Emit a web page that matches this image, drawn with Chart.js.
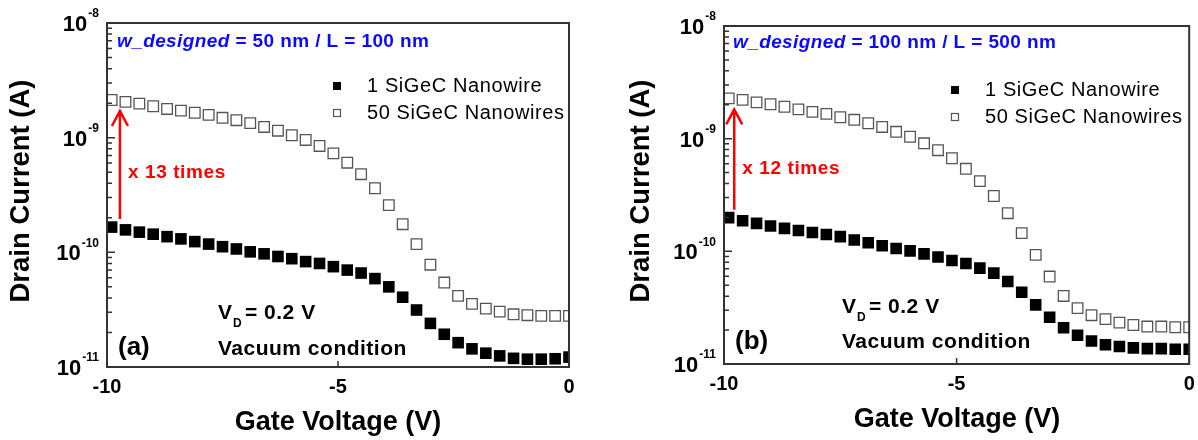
<!DOCTYPE html>
<html lang="en">
<head>
<meta charset="UTF-8">
<title>SiGeC nanowire drain current</title>
<script src="https://cdn.jsdelivr.net/npm/chart.js"></script>
<style>
  body { margin: 0; background: #fff; }
  .panel { position: absolute; top: 0; width: 599px; height: 440px; }
  #wrapA { left: 0; }
  #wrapB { left: 599px; }
</style>
</head>
<body>
<div class="panel" id="wrapA"><canvas id="chartA" width="599" height="440"></canvas></div>
<div class="panel" id="wrapB"><canvas id="chartB" width="599" height="440"></canvas></div>
<script>
// gate voltage sweep (V)
const gateV = [-9.9, -9.6, -9.3, -9.0, -8.7, -8.4, -8.1, -7.8, -7.5, -7.2, -6.9, -6.6,
  -6.3, -6.0, -5.7, -5.4, -5.1, -4.8, -4.5, -4.2, -3.9, -3.6, -3.3, -3.0, -2.7, -2.4,
  -2.1, -1.8, -1.5, -1.2, -0.9, -0.6, -0.3, 0];

// (a) w = 50 nm / L = 100 nm
const drainA1 = [1.66e-10, 1.57e-10, 1.50e-10, 1.44e-10, 1.37e-10, 1.31e-10, 1.24e-10, 1.18e-10,
  1.12e-10, 1.07e-10, 1.01e-10, 9.7e-11, 9.2e-11, 8.8e-11, 8.3e-11, 8.0e-11, 7.5e-11, 7.0e-11,
  6.6e-11, 5.9e-11, 5.0e-11, 4.06e-11, 3.14e-11, 2.40e-11, 1.93e-11, 1.63e-11, 1.44e-11,
  1.32e-11, 1.25e-11, 1.19e-11, 1.17e-11, 1.17e-11, 1.18e-11, 1.22e-11];
const drainA50 = [2.13e-9, 2.05e-9, 1.98e-9, 1.88e-9, 1.78e-9, 1.72e-9, 1.65e-9, 1.58e-9, 1.49e-9,
  1.42e-9, 1.34e-9, 1.24e-9, 1.15e-9, 1.05e-9, 9.55e-10, 8.47e-10, 7.3e-10, 6.05e-10, 4.80e-10,
  3.62e-10, 2.58e-10, 1.76e-10, 1.18e-10, 7.8e-11, 5.45e-11, 4.17e-11, 3.55e-11, 3.23e-11,
  3.04e-11, 2.88e-11, 2.83e-11, 2.79e-11, 2.79e-11, 2.79e-11];

// (b) w = 100 nm / L = 500 nm
const drainB1 = [1.99e-10, 1.87e-10, 1.77e-10, 1.68e-10, 1.60e-10, 1.53e-10, 1.47e-10, 1.41e-10,
  1.35e-10, 1.26e-10, 1.19e-10, 1.12e-10, 1.06e-10, 1.01e-10, 9.5e-11, 8.9e-11, 8.3e-11, 7.8e-11,
  7.1e-11, 6.4e-11, 5.4e-11, 4.34e-11, 3.35e-11, 2.60e-11, 2.10e-11, 1.80e-11, 1.60e-11,
  1.48e-11, 1.43e-11, 1.39e-11, 1.37e-11, 1.37e-11, 1.35e-11, 1.35e-11];
const drainB50 = [2.28e-9, 2.21e-9, 2.10e-9, 2.02e-9, 1.92e-9, 1.82e-9, 1.73e-9, 1.66e-9, 1.55e-9,
  1.47e-9, 1.37e-9, 1.27e-9, 1.15e-9, 1.04e-9, 9.1e-10, 7.9e-10, 6.7e-10, 5.4e-10, 4.2e-10,
  3.1e-10, 2.18e-10, 1.45e-10, 9.3e-11, 5.97e-11, 4.02e-11, 3.13e-11, 2.71e-11, 2.50e-11,
  2.33e-11, 2.22e-11, 2.15e-11, 2.15e-11, 2.12e-11, 2.12e-11];

const seriesNames = ['1 SiGeC Nanowire', '50 SiGeC Nanowires'];
const xTickValues = [-10, -5, 0];
const yDecades = [-11, -10, -9, -8];

const FONT = 'Arial, "Liberation Sans", sans-serif';

function pts(ys) {
  return gateV.map((v, i) => ({ x: v, y: ys[i] }));
}

function txt(ctx, s, x, y, font, color, align, spacing) {
  ctx.font = font;
  ctx.fillStyle = color || '#000';
  ctx.textAlign = align || 'left';
  ctx.textBaseline = 'middle';
  ctx.letterSpacing = spacing || '0px';
  ctx.fillText(s, x, y);
  const w = ctx.measureText(s).width;
  ctx.letterSpacing = '0px';
  return w;
}

const decor = {
  id: 'decor',
  afterDraw(chart, args, o) {
    const { ctx, chartArea: a, scales: { x, y } } = chart;
    ctx.save();

    // frame
    ctx.strokeStyle = '#333';
    ctx.lineWidth = 2;
    ctx.strokeRect(a.left, a.top, a.right - a.left, a.bottom - a.top);

    // y ticks (inward), major + log minors
    ctx.lineWidth = 1.5;
    ctx.beginPath();
    yDecades.forEach(d => {
      const py = y.getPixelForValue(Math.pow(10, d));
      ctx.moveTo(a.left, py); ctx.lineTo(a.left + 8, py);
      if (d < -8) {
        for (let m = 2; m <= 9; m++) {
          const pm = y.getPixelForValue(m * Math.pow(10, d));
          ctx.moveTo(a.left, pm); ctx.lineTo(a.left + 5, pm);
        }
      }
    });
    xTickValues.forEach(v => {
      const px = x.getPixelForValue(v);
      ctx.moveTo(px, a.bottom); ctx.lineTo(px, a.bottom - 6);
    });
    ctx.stroke();

    // y tick labels 10^n
    yDecades.forEach(d => {
      const py = y.getPixelForValue(Math.pow(10, d));
      ctx.font = 'bold 12px ' + FONT;
      const ew = ctx.measureText(String(d)).width;
      const sx = a.left - 8 - ew;
      txt(ctx, String(d), sx, py - 9, 'bold 12px ' + FONT, '#000', 'left');
      txt(ctx, '10', sx - 1, py + 2, 'bold 22px ' + FONT, '#000', 'right');
    });

    // x tick labels
    xTickValues.forEach(v => {
      txt(ctx, String(v), x.getPixelForValue(v), a.bottom + 20, 'bold 20px ' + FONT, '#000', 'center');
    });

    // axis titles
    ctx.save();
    ctx.translate(o.yTitle[0], o.yTitle[1]);
    ctx.rotate(-Math.PI / 2);
    txt(ctx, 'Drain Current (A)', 0, 0, 'bold 27.5px ' + FONT, '#000', 'center');
    ctx.restore();
    txt(ctx, 'Gate Voltage (V)', o.xTitle[0], o.xTitle[1], 'bold 27px ' + FONT, '#000', 'center');

    // design label
    let cx = o.design[0];
    cx += txt(ctx, 'w_designed', cx, o.design[1], 'italic bold 19px ' + FONT, '#0a0aff', 'left', '0.4px');
    txt(ctx, ' = ' + o.designW + ' / L = ' + o.designL, cx, o.design[1], 'bold 19px ' + FONT, '#0a0aff', 'left', '0.4px');

    // legend
    const [lx, ly] = o.legend;
    ctx.fillStyle = '#000';
    ctx.fillRect(lx - 4, ly - 4, 8, 8);
    ctx.strokeStyle = '#555';
    ctx.lineWidth = 1.2;
    ctx.strokeRect(lx - 3.5, ly + 27 - 3.5, 7, 7);
    txt(ctx, seriesNames[0], lx + 30, ly, '20px ' + FONT, '#000', 'left', '0.6px');
    txt(ctx, seriesNames[1], lx + 30, ly + 27, '20px ' + FONT, '#000', 'left', '0.6px');

    // arrow between first points of the two series
    const ds = chart.data.datasets;
    const ax = x.getPixelForValue(o.arrowX);
    const tail = y.getPixelForValue(ds[0].data[0].y) - 8;
    const tip = y.getPixelForValue(ds[1].data[0].y) + 11;
    ctx.strokeStyle = '#ff0000';
    ctx.lineWidth = 2.5;
    ctx.beginPath();
    ctx.moveTo(ax, tail); ctx.lineTo(ax, tip);
    ctx.moveTo(ax - 8, tip + 15); ctx.lineTo(ax, tip); ctx.lineTo(ax + 8, tip + 15);
    ctx.stroke();
    txt(ctx, o.times, ax + 8, o.timesY, 'bold 19px ' + FONT, '#ff0000', 'left', '0.6px');

    // conditions
    const [vx, vy] = o.vd;
    let w = txt(ctx, 'V', vx, vy, 'bold 21px ' + FONT);
    txt(ctx, 'D', vx + w + 1, vy + 11, 'bold 12px ' + FONT);
    txt(ctx, '= 0.2 V', vx + w + 13, vy, 'bold 21px ' + FONT, '#000', 'left', '0.5px');
    txt(ctx, 'Vacuum condition', vx, o.vac, 'bold 21px ' + FONT, '#000', 'left', '0.5px');
    txt(ctx, o.letter, o.letterPos[0], o.letterPos[1], 'bold 26px ' + FONT);

    ctx.restore();
  }
};

function makeChart(id, d1, d50, pad, deco) {
  return new Chart(document.getElementById(id), {
    type: 'scatter',
    data: {
      datasets: [
        {
          label: seriesNames[0],
          data: pts(d1),
          pointStyle: 'rect',
          pointRadius: 8.2,
          backgroundColor: '#000',
          borderColor: '#000',
          borderWidth: 0
        },
        {
          label: seriesNames[1],
          data: pts(d50),
          pointStyle: 'rect',
          pointRadius: 7.5,
          backgroundColor: 'rgba(255,255,255,0)',
          borderColor: '#555',
          borderWidth: 1.3
        }
      ]
    },
    options: {
      responsive: false,
      animation: false,
      devicePixelRatio: 1,
      layout: { padding: pad },
      plugins: { legend: { display: false }, tooltip: { enabled: false }, decor: deco },
      scales: {
        x: { type: 'linear', min: -10, max: 0, display: false },
        y: { type: 'logarithmic', min: 1e-11, max: 1e-8, display: false }
      }
    },
    plugins: [decor]
  });
}

makeChart('chartA', drainA1, drainA50, { left: 107, top: 23, right: 30, bottom: 73 }, {
  yTitle: [21, 191], xTitle: [338, 423],
  design: [117, 42], designW: '50 nm', designL: '100 nm',
  legend: [337, 86],
  arrowX: -9.72, times: 'x 13 times', timesY: 173,
  vd: [218, 313], vac: 349,
  letter: '(a)', letterPos: [118, 348]
});

makeChart('chartB', drainB1, drainB50, { left: 125, top: 26, right: 8, bottom: 76 }, {
  yTitle: [42, 191], xTitle: [358, 420],
  design: [134, 43], designW: '100 nm', designL: '500 nm',
  legend: [356, 90],
  arrowX: -9.78, times: 'x 12 times', timesY: 169,
  vd: [243, 307], vac: 342,
  letter: '(b)', letterPos: [136, 342]
});
</script>
</body>
</html>
